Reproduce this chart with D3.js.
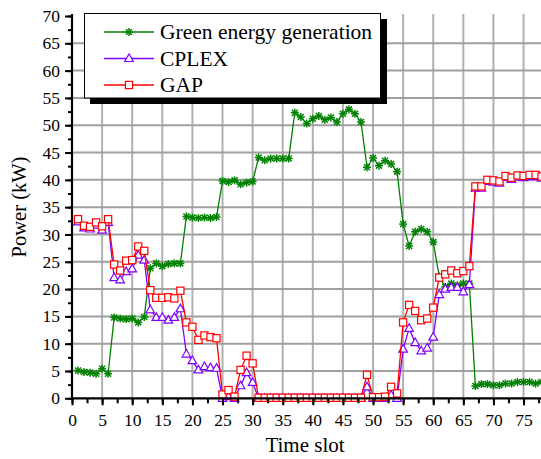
<!DOCTYPE html>
<html>
<head>
<meta charset="utf-8">
<script src="https://cdn.jsdelivr.net/npm/d3@7"></script>
<style>
  html, body { margin: 0; padding: 0; background: #fff; }
  svg { display: block; }
  text { font-family: "Liberation Serif", "Times New Roman", serif; fill: #000; }
</style>
</head>
<body>
<svg id="chart" width="541" height="459"></svg>
<script>
// ---- data ----
const timeSlots = [1,2,3,4,5,6,7,8,9,10,11,12,13,14,15,16,17,18,19,20,21,22,23,24,25,26,27,28,29,30,31,32,33,34,35,36,37,38,39,40,41,42,43,44,45,46,47,48,49,50,51,52,53,54,55,56,57,58,59,60,61,62,63,64,65,66,67,68,69,70,71,72,73,74,75,76,77,78];
const greenEnergy = [5.1,4.8,4.7,4.5,5.4,4.5, 14.8,14.6,14.5,14.6,13.9,14.9, 23.8,24.7,24.2,24.6,24.7,24.7, 33.3,33.1,33.0,33.1,33.0,33.2, 39.8,39.6,39.9,39.2,39.5,39.7, 44.1,43.6,43.9,43.9,43.9,43.9, 52.3,51.5,50.3,51.2,51.7,51.0,51.4,50.6,52.1,52.9,52.1,50.6, 42.3,44.0,42.6,43.5,42.9,41.5, 31.9,27.9,30.5,31.0,30.5,28.6, 22.3,20.4,21.0,20.7,21.0,21.0, 2.25,2.6,2.6,2.4,2.4,2.7,2.7,3.0,3.0,3.0,2.7,3.0];
const cplex = [32.3,31.2,31.0,31.7,30.8,32.2, 22.1,21.7,23.2,23.7,26.2,25.3, 16.2,14.8,14.8,14.3,14.8,16.4, 8.1,6.9,5.2,5.8,5.6,5.5, 0,0.3,0,2.3,4.7,2.9, 0,0,0,0,0,0, 0,0,0,0,0,0,0,0,0,0,0,0, 2.1,0,0,0,0.6,0, 9.0,12.8,10.2,8.7,9.2,11.2, 19.0,20.0,20.3,20.3,19.5,20.8, 38.5,38.5,39.7,39.6,39.4,40.4,40.1,40.5,40.4,40.6,40.6,40.3];
const gap = [32.8,31.6,31.4,32.2,31.5,32.8, 24.5,23.4,25.2,25.3,27.8,27.0, 19.8,18.4,18.4,18.5,18.3,19.7, 13.9,13.1,10.7,11.5,11.2,11.0, 0.7,1.5,0.3,5.2,7.8,6.4, 0.1,0.1,0.1,0.1,0.1,0.1, 0.1,0.1,0.1,0.1,0.1,0.1,0.1,0.1,0.1,0.1,0.1,0.1, 4.3,0.2,0.2,0.3,2.1,0.9, 13.9,17.1,16.0,14.3,14.6,16.6, 22.1,22.7,23.4,22.9,23.3,24.2, 38.8,38.8,40.0,39.9,39.7,40.7,40.4,40.8,40.7,40.9,40.9,40.6];
const xTicks = [0,5,10,15,20,25,30,35,40,45,50,55,60,65,70,75];
const yTicks = [0,5,10,15,20,25,30,35,40,45,50,55,60,65,70];
const seriesNames = ["Green energy generation", "CPLEX", "GAP"];

// ---- layout ----
const svg = d3.select("#chart");
const x = d3.scaleLinear().domain([0, 78]).range([72, 541.6]);
const y = d3.scaleLinear().domain([0, 70]).range([398.3, 16]);
const xMinor = d3.range(0, 79, 2.5);
const yMinor = d3.range(0, 70.1, 2.5);
const SERIF = "'Liberation Serif', 'Times New Roman', serif";

// grid
const grid = svg.append("g");
grid.selectAll("line.v").data(xTicks.filter(d => d > 0)).join("line")
  .attr("x1", d => x(d)).attr("x2", d => x(d))
  .attr("y1", y(70) - 2).attr("y2", y(0))
  .attr("stroke", "#b0b0b0").attr("stroke-width", 2);
grid.selectAll("line.h").data(yTicks.filter(d => d > 0 && d < 70)).join("line")
  .attr("x1", x(0)).attr("x2", 541)
  .attr("y1", d => y(d)).attr("y2", d => y(d))
  .attr("stroke", "#a0a0a0").attr("stroke-width", 2);

// series
const colors = ["#008000", "#8000ff", "#ff0000"];
const allSeries = [greenEnergy, cplex, gap];
const line = d3.line().x((d, i) => x(timeSlots[i])).y(d => y(d));

function drawMarker(g, type, color) {
  if (type === 0) {
    const r = 4;
    [[-r,0,r,0],[0,-r,0,r],[-r*0.75,-r*0.75,r*0.75,r*0.75],[-r*0.75,r*0.75,r*0.75,-r*0.75]].forEach(a => {
      g.append("line").attr("x1", a[0]).attr("y1", a[1]).attr("x2", a[2]).attr("y2", a[3])
        .attr("stroke", color).attr("stroke-width", 1.5);
    });
  } else if (type === 1) {
    g.append("path").attr("d", "M0,-4.6L4.3,3L-4.3,3Z")
      .attr("fill", "#fff").attr("stroke", color).attr("stroke-width", 1.2);
  } else {
    g.append("rect").attr("x", -3.6).attr("y", -3.6).attr("width", 7.2).attr("height", 7.2)
      .attr("fill", "#fff").attr("stroke", color).attr("stroke-width", 1.2);
  }
}

allSeries.forEach((vals, k) => {
  const g = svg.append("g");
  g.append("path").datum(vals).attr("d", line)
    .attr("fill", "none").attr("stroke", colors[k]).attr("stroke-width", 1.3);
  vals.forEach((v, i) => {
    const m = g.append("g").attr("transform", `translate(${x(timeSlots[i])},${y(v)})`);
    drawMarker(m, k, colors[k]);
  });
});

// axes
const axL = svg.append("g").attr("transform", `translate(${x(0)},0)`);
axL.call(d3.axisLeft(y).tickValues(yMinor).tickSize(4).tickFormat(""));
axL.append("g").call(d3.axisLeft(y).tickValues(yTicks).tickSize(7).tickPadding(5).tickFormat(d3.format("d")));
axL.selectAll(".domain").remove();
axL.selectAll("g").attr("font-family", SERIF).attr("font-size", 17.5);
axL.attr("font-family", SERIF).attr("font-size", 17.5);
axL.selectAll("line").attr("stroke", "#000").attr("stroke-width", 2);
axL.selectAll("text").attr("font-family", SERIF).attr("font-size", 17.5).attr("fill", "#000");
axL.append("line").attr("x1", 0).attr("x2", 0).attr("y1", y(70) - 2).attr("y2", y(0) + 1)
  .attr("stroke", "#000").attr("stroke-width", 2.2);

const axB = svg.append("g").attr("transform", `translate(0,${y(0)})`);
axB.call(d3.axisBottom(x).tickValues(xMinor).tickSize(5).tickFormat(""));
axB.append("g").call(d3.axisBottom(x).tickValues(xTicks).tickSize(7).tickPadding(8).tickFormat(d3.format("d")));
axB.selectAll(".domain").remove();
axB.attr("font-family", SERIF).attr("font-size", 17.5);
axB.selectAll("g").attr("font-family", SERIF).attr("font-size", 17.5);
axB.selectAll("line").attr("stroke", "#000").attr("stroke-width", 2);
axB.selectAll("text").attr("font-family", SERIF).attr("font-size", 17.5).attr("fill", "#000");
axB.append("line").attr("x1", x(0) - 1).attr("x2", 541).attr("y1", 0).attr("y2", 0)
  .attr("stroke", "#000").attr("stroke-width", 2.2);

// axis titles
svg.append("text").attr("x", 305).attr("y", 452).attr("text-anchor", "middle")
  .attr("font-family", SERIF).style("font-size", "21px").text("Time slot");
svg.append("text").attr("transform", "translate(26,207) rotate(-90)").attr("text-anchor", "middle")
  .attr("font-family", SERIF).style("font-size", "20.5px").text("Power (kW)");

// legend
const lg = svg.append("g");
lg.append("rect").attr("x", 90).attr("y", 19).attr("width", 297).attr("height", 85).attr("fill", "#000");
lg.append("rect").attr("x", 84.5).attr("y", 13.5).attr("width", 296).attr("height", 84.5)
  .attr("fill", "#fff").attr("stroke", "#000").attr("stroke-width", 1);
const rowsY = [32, 58.5, 85];
seriesNames.forEach((name, k) => {
  lg.append("line").attr("x1", 104).attr("x2", 154).attr("y1", rowsY[k]).attr("y2", rowsY[k])
    .attr("stroke", colors[k]).attr("stroke-width", 1.3);
  const m = lg.append("g").attr("transform", `translate(129,${rowsY[k]})`);
  drawMarker(m, k, colors[k]);
  lg.append("text").attr("x", 160).attr("y", rowsY[k] + 7).attr("font-family", SERIF)
    .style("font-size", "21.5px").text(name);
});
</script>
</body>
</html>
